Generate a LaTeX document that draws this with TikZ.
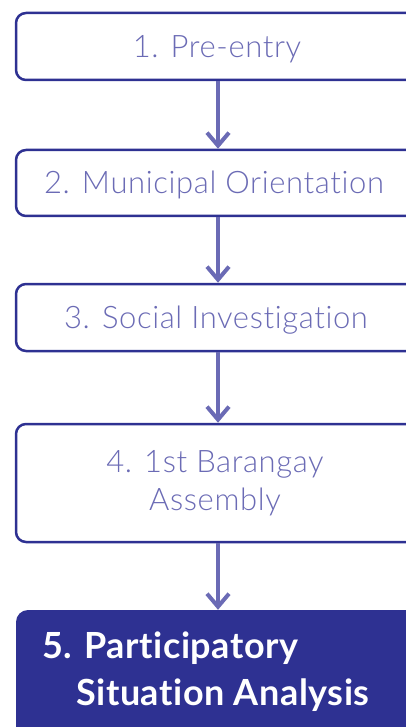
\documentclass[tikz,border=0pt]{standalone}
\usepackage{fontspec}
\setmainfont{Lato}[Ligatures={NoCommon,NoRare,NoDiscretionary}]
\newfontfamily\lightfont{Lato Light}[Ligatures={NoCommon,NoRare,NoDiscretionary}, LetterSpace=2]
\usetikzlibrary{arrows.meta}
\definecolor{edgeblue}{HTML}{2E3192}
\definecolor{softblue}{HTML}{6B6BB5}
\begin{document}
\begin{tikzpicture}[x=1pt,y=1pt,
  stepbox/.style={draw=edgeblue, line width=2.5pt, rounded corners=10pt, fill=white, minimum width=404pt, inner sep=0pt},
  lastbox/.style={fill=edgeblue, rounded corners=12pt, minimum width=404pt, inner sep=0pt},
  lbl/.style={anchor=base, text=softblue, font=\lightfont\fontsize{31}{38}\selectfont, inner sep=0pt},
  lastlbl/.style={anchor=base west, text=white, font=\bfseries\addfontfeatures{LetterSpace=1.5}\fontsize{36}{47}\selectfont, inner sep=0pt, align=left},
  flow/.style={draw=softblue, line width=4pt, -{Straight Barb[length=13pt, width=22pt, line width=4pt]}}]
\useasboundingbox (0,0) rectangle (406,-727);
\clip (0,0) rectangle (406,-727);
\node[stepbox, minimum height=67pt] (b1) at (218,-46.5) {};
\node[stepbox, minimum height=66pt] (b2) at (218,-183) {};
\node[stepbox, minimum height=67pt] (b3) at (218,-317.5) {};
\node[stepbox, minimum height=118pt] (b4) at (218,-483) {};
\node[lastbox, minimum height=150pt] (b5) at (218,-685) {};
\node[lbl] (t1) at (217,-58) {1. Pre-entry};
\node[lbl] (t2) at (214,-194) {2. Municipal Orientation};
\node[lbl] (t3) at (216,-328) {3. Social Investigation};
\node[lbl] (t4a) at (215,-472) {4. 1st Barangay};
\node[lbl] (t4b) at (215,-510) {Assembly};
\node[lastlbl] (t5a) at (42,-658) {5. Participatory};
\node[lastlbl] (t5b) at (76,-705) {Situation Analysis};
\draw[flow] (b1.south) -- (b2.north);
\draw[flow] (b2.south) -- (b3.north);
\draw[flow] (b3.south) -- (b4.north);
\draw[flow] (b4.south) -- (b5.north);
\end{tikzpicture}
\end{document}
